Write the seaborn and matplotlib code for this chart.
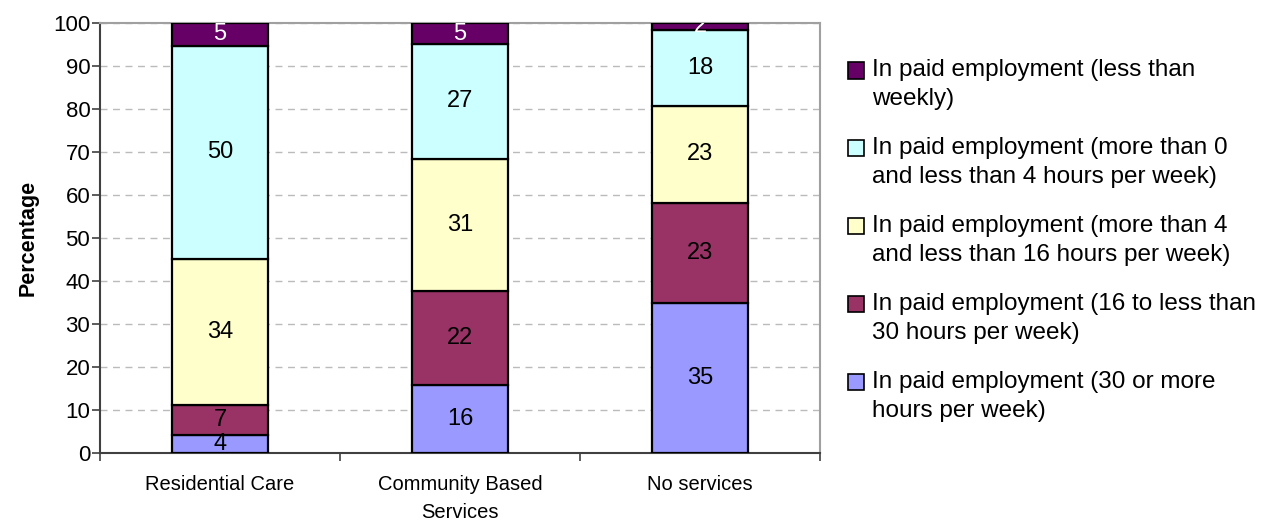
import numpy as np
import matplotlib
matplotlib.use("Agg")
import matplotlib.pyplot as plt
import seaborn as sns
from matplotlib.patches import Patch, Rectangle
from matplotlib.legend_handler import HandlerPatch
from matplotlib.ticker import FixedLocator

sns.set_theme(style="white")
plt.rcParams["font.family"] = ["Liberation Sans", "DejaVu Sans"]
plt.rcParams["text.color"] = "black"

categories = ["Residential Care", "Community Based\nServices", "No services"]

# Stacked layers, bottom to top (percent of each group)
hours_30_plus = [4.2, 15.8, 35.0]
hours_16_to_30 = [7.0, 21.9, 23.2]
hours_4_to_16 = [33.9, 30.7, 22.6]
hours_0_to_4 = [49.6, 26.7, 17.6]
less_than_weekly = [5.3, 4.9, 1.6]

series_names = [
    "In paid employment (30 or more\nhours per week)",
    "In paid employment (16 to less than\n30 hours per week)",
    "In paid employment (more than 4\nand less than 16 hours per week)",
    "In paid employment (more than 0\nand less than 4 hours per week)",
    "In paid employment (less than\nweekly)",
]
series_values = [hours_30_plus, hours_16_to_30, hours_4_to_16, hours_0_to_4, less_than_weekly]
series_colors = ["#9999FF", "#993366", "#FFFFCC", "#CCFFFF", "#660066"]
label_colors = ["black", "black", "black", "black", "white"]

fig = plt.figure(figsize=(12.66, 5.24), dpi=100)
ax = fig.add_axes([100 / 1266, 71 / 524, 720 / 1266, 430 / 524])

bottom = np.zeros(len(categories))
for name, vals, col, lc in zip(series_names, series_values, series_colors, label_colors):
    vals = np.asarray(vals, dtype=float)
    sns.barplot(x=categories, y=vals, bottom=bottom, color=col, saturation=1, width=0.4,
                edgecolor="black", linewidth=1.6, ax=ax, zorder=3)
    cont = ax.containers[-1]
    texts = ax.bar_label(cont, labels=[f"{v:.0f}" for v in vals], label_type="center",
                         fontsize=17, color=lc)
    for t in texts:
        t.set_clip_box(ax.bbox)
        t.set_clip_on(True)
        t.set_zorder(4)
    bottom += vals

ax.set_ylim(0, 100)
ax.set_xlim(-0.5, 2.5)
ax.set_yticks(np.arange(0, 101, 10))
ax.yaxis.grid(True, linestyle=(0, (5, 4)), color="#BBBBBB", linewidth=1.0, zorder=0)
ax.xaxis.grid(False)

ax.tick_params(axis="y", which="major", length=6, width=1.2, color="#404040",
               labelsize=16, pad=1, left=True, labelcolor="black")
ax.tick_params(axis="x", which="major", length=0, labelsize=14.5, pad=16, labelcolor="black")
for lab in ax.get_xticklabels():
    lab.set_linespacing(1.6)
ax.xaxis.set_minor_locator(FixedLocator([-0.5, 0.5, 1.5, 2.5]))
ax.tick_params(axis="x", which="minor", length=6, width=1.2, color="#404040", bottom=True)

for side in ["left", "bottom"]:
    ax.spines[side].set_color("#404040")
    ax.spines[side].set_linewidth(1.5)
for side in ["top", "right"]:
    ax.spines[side].set_visible(True)
    ax.spines[side].set_color("#A0A0A0")
    ax.spines[side].set_linewidth(1.5)

ax.set_xlabel("")
ax.set_ylabel("Percentage", fontsize=15.5, fontweight="bold", color="black")
ax.yaxis.set_label_coords(-0.085, 0.5)


def first_line_square(legend, orig_handle, xdescent, ydescent, width, height, fontsize):
    # keep the swatch level with the first line of a two-line label
    return Rectangle((-xdescent, -ydescent + 0.58 * fontsize), width, height)


handles = [Patch(facecolor=c, edgecolor="black", linewidth=1.2) for c in series_colors]
leg = fig.legend(handles[::-1], series_names[::-1], loc="upper left",
                 bbox_to_anchor=(848 / 1266, 1 - 59 / 524), frameon=False, fontsize=17.5,
                 handlelength=0.65, handleheight=0.65, handletextpad=0.35,
                 labelspacing=1.1, borderaxespad=0, borderpad=0,
                 handler_map={Patch: HandlerPatch(patch_func=first_line_square)})
for t in leg.get_texts():
    t.set_linespacing(1.42)
    t.set_color("black")

fig.savefig("out.png", dpi=100, facecolor="white")
